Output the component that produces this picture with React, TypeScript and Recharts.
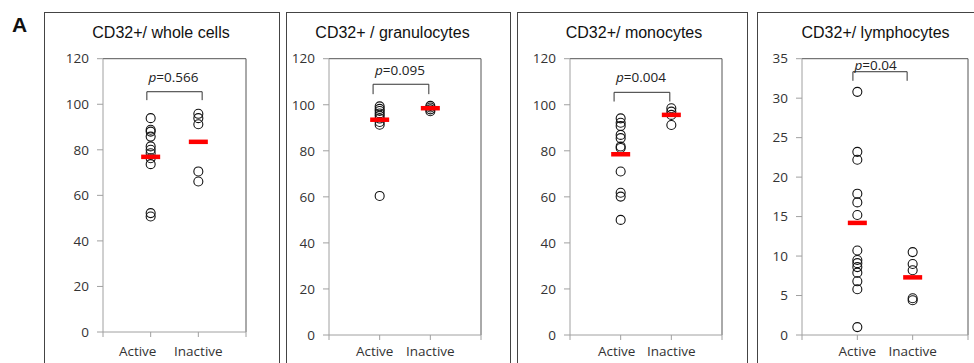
import React from 'react';
import { ScatterChart, Scatter, XAxis, YAxis, ReferenceLine } from 'recharts';

// ---------- data ----------
const categories = ['Active', 'Inactive'];
const panelTitles = ['CD32+/ whole cells', 'CD32+ / granulocytes', 'CD32+/ monocytes', 'CD32+/ lymphocytes'];
const pValues = ['0.566', '0.095', '0.004', '0.04'];

const wholeActive = [93.9, 88.8, 88.0, 85.8, 81.5, 80.0, 78.5, 76.3, 73.7, 52.2, 50.7];
const wholeInactive = [95.8, 93.9, 91.2, 70.5, 66.1];
const granActive = [99.3, 98.2, 97.3, 96.2, 95.2, 94.0, 92.5, 91.3, 60.4];
const granInactive = [99.5, 98.8, 98.0, 97.2];
const monoActive = [94.1, 92.2, 90.8, 86.9, 85.5, 81.9, 81.2, 71.0, 61.8, 60.1, 50.0];
const monoInactive = [98.5, 97.0, 95.6, 91.2];
const lymphActive = [30.8, 23.2, 22.2, 17.9, 16.8, 15.2, 10.7, 9.5, 9.1, 8.6, 7.9, 6.8, 5.8, 1.0];
const lymphInactive = [10.5, 9.0, 8.2, 4.65, 4.4];

const meanValues = [
  [76.9, 83.5],
  [93.5, 98.5],
  [78.5, 95.6],
  [14.2, 7.3],
];

const yTicksPercent = [0, 20, 40, 60, 80, 100, 120];
const yTicksLymph = [0, 5, 10, 15, 20, 25, 30, 35];
const xTicks = [0, 1, 2, 3];

// significance brackets (category units, value units)
const bracketSpans = [[0.92, 2.08], [0.87, 1.97], [0.87, 1.97], [0.92, 1.9]];
const bracketLevels = [[105.5, 101.8], [108.9, 104.6], [105.4, 101.4], [33.35, 32.2]];

const seriesActive = [wholeActive, granActive, monoActive, lymphActive];
const seriesInactive = [wholeInactive, granInactive, monoInactive, lymphInactive];
const yTickSets = [yTicksPercent, yTicksPercent, yTicksPercent, yTicksLymph];

// ---------- layout ----------
const layout = [
  { box: [44, 279], plot: [103, 246], plotY: [58.7, 332], title: 161, activeDx: -13, pDx: -1, pDy: 10 },
  { box: [286, 510], plot: [329, 481], plotY: [58.7, 335], title: 392.5, activeDx: -5, pDx: -1, pDy: 9.6 },
  { box: [517, 747], plot: [570, 722], plotY: [58.7, 335], title: 634, activeDx: -4, pDx: -1, pDy: 10 },
  { box: [757, 994], plot: [802, 968], plotY: [58.7, 335], title: 875.5, activeDx: 0, pDx: -4.5, pDy: 2 },
];
const X_LABEL_CENTER = 351.5;

const TICK_FONT = 'Open Sans, Noto Sans, sans-serif';
const AXIS_GRAY = '#a0a0a0';

const OpenCircle = (props: any) => (
  <circle cx={props.cx} cy={props.cy} r={4.5} fill="none" stroke="#111" strokeWidth={1.1} />
);

const MeanBar = (props: any) => (
  <rect x={props.cx - 9.5} y={props.cy - 2.25} width={19} height={4.5} fill="#ff0000" />
);

const makeXTick = (activeDx: number) => (props: any) => {
  const v = props.payload?.value;
  const label = v === 1 ? categories[0] : v === 2 ? categories[1] : '';
  if (!label) return <g />;
  return (
    <text
      x={props.x + (v === 1 ? activeDx : 0)}
      y={props.y}
      dy="0.71em"
      textAnchor="middle"
      fontSize={13.5}
      fontFamily={TICK_FONT}
      fill="#333"
    >
      {label}
    </text>
  );
};

const makePLabel = (text: string, dx: number, dy: number) => (props: any) => {
  const vb = props.viewBox || {};
  const cx = (vb.x ?? 0) + (vb.width ?? 0) / 2 + dx;
  const y = (vb.y ?? 0) - dy;
  return (
    <text x={cx} y={y} textAnchor="middle" fontSize={13.5} fontFamily={TICK_FONT} fill="#222">
      <tspan fontStyle="italic">p</tspan>={text}
    </text>
  );
};

function Panel({ i }: { i: number }) {
  const L = layout[i];
  const chartLeft = L.box[0] + 2;
  const width = L.plot[1] + 5 - chartLeft;
  const yW = 40;
  const xH = 25;
  const margin = {
    top: L.plotY[0],
    bottom: 363 - L.plotY[1] - xH,
    left: L.plot[0] - chartLeft - yW,
    right: 5,
  };
  const tickSize = 5;
  const xTickMargin = X_LABEL_CENTER - 4.8 - L.plotY[1] - tickSize;
  const ticks = yTickSets[i];
  const yMax = ticks[ticks.length - 1];
  const activeData = seriesActive[i].map((y) => ({ x: 1, y }));
  const inactiveData = seriesInactive[i].map((y) => ({ x: 2, y }));
  const meanData = meanValues[i].map((y, k) => ({ x: k + 1, y }));
  const [bx1, bx2] = bracketSpans[i];
  const [byTop, byBottom] = bracketLevels[i];

  return (
    <div style={{ position: 'absolute', left: chartLeft, top: 0 }}>
      <ScatterChart width={width} height={363} margin={margin} style={{ overflow: 'visible' }}>
        <XAxis
          type="number"
          dataKey="x"
          domain={[0, 3]}
          ticks={xTicks}
          interval={0}
          height={xH}
          allowDataOverflow
          axisLine={{ stroke: AXIS_GRAY }}
          tickLine={{ stroke: AXIS_GRAY }}
          tickSize={tickSize}
          tickMargin={xTickMargin}
          tick={makeXTick(L.activeDx)}
        />
        <YAxis
          type="number"
          dataKey="y"
          domain={[0, yMax]}
          ticks={ticks}
          interval={0}
          width={yW}
          allowDataOverflow
          axisLine={{ stroke: AXIS_GRAY }}
          tickLine={{ stroke: AXIS_GRAY }}
          tickSize={6}
          tickMargin={8}
          tick={{ fontSize: 13.5, fontFamily: TICK_FONT, fill: '#333' }}
        />
        <ReferenceLine y={yMax} stroke="#555" strokeWidth={1} />
        <ReferenceLine x={3} stroke="#555" strokeWidth={1} />
        <ReferenceLine
          segment={[{ x: bx1, y: byTop }, { x: bx2, y: byTop }]}
          stroke="#333"
          strokeWidth={1}
          label={makePLabel(pValues[i], L.pDx, L.pDy)}
        />
        <ReferenceLine segment={[{ x: bx1, y: byTop }, { x: bx1, y: byBottom }]} stroke="#333" strokeWidth={1} />
        <ReferenceLine segment={[{ x: bx2, y: byTop }, { x: bx2, y: byBottom }]} stroke="#333" strokeWidth={1} />
        <Scatter data={activeData} shape={OpenCircle} isAnimationActive={false} />
        <Scatter data={inactiveData} shape={OpenCircle} isAnimationActive={false} />
        <Scatter data={meanData} shape={MeanBar} isAnimationActive={false} />
      </ScatterChart>
    </div>
  );
}

export default function App() {
  return (
    <div style={{ position: 'absolute', left: 0, top: 0, width: 974, height: 363, background: '#fff', overflow: 'hidden' }}>
      <svg width={974} height={363} style={{ position: 'absolute', left: 0, top: 0 }}>
        <text x={12} y={32} fontSize={21} fontWeight="bold" fontFamily="Liberation Sans, Arial, sans-serif" fill="#111">
          A
        </text>
        {layout.map((L, i) => (
          <g key={i}>
            <rect x={L.box[0] + 0.5} y={12.5} width={L.box[1] - L.box[0]} height={400} fill="none" stroke="#444" strokeWidth={1} />
            <text
              x={L.title}
              y={37.5}
              textAnchor="middle"
              fontSize={16}
              fontFamily="Liberation Sans, Arial, sans-serif"
              fill="#111"
            >
              {panelTitles[i]}
            </text>
          </g>
        ))}
      </svg>
      {layout.map((_, i) => (
        <Panel key={i} i={i} />
      ))}
    </div>
  );
}
